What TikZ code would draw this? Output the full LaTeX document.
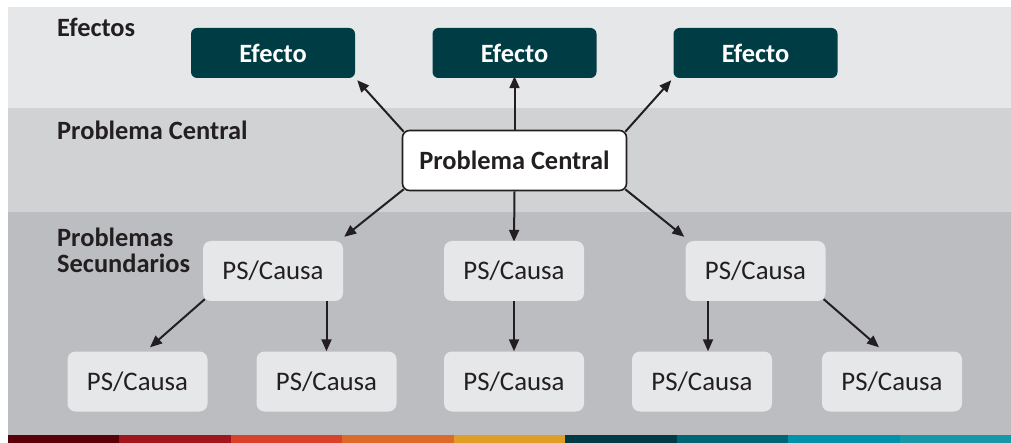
\documentclass[tikz,border=0pt]{standalone}
\usepackage{fontspec}
\setmainfont{Carlito}
\usetikzlibrary{arrows.meta}
\definecolor{ink}{HTML}{231F20}
\definecolor{bandA}{HTML}{E6E7E9}
\definecolor{bandB}{HTML}{D1D2D4}
\definecolor{bandC}{HTML}{BCBDC0}
\definecolor{efecto}{HTML}{003C44}
\definecolor{psfill}{HTML}{E6E7E8}
\definecolor{sA}{HTML}{5A0009}
\definecolor{sB}{HTML}{A1161C}
\definecolor{sC}{HTML}{D9412A}
\definecolor{sD}{HTML}{DC6A2A}
\definecolor{sE}{HTML}{E09E28}
\definecolor{sF}{HTML}{003C46}
\definecolor{sG}{HTML}{006574}
\definecolor{sH}{HTML}{0092A8}
\definecolor{sI}{HTML}{1897A8}
\pgfdeclarelayer{bands}
\pgfdeclarelayer{edges}
\pgfsetlayers{bands,edges,main}
\tikzset{
  txt/.style={font=\fontsize{26.8}{27}\selectfont, text=ink},
  boldtxt/.style={font=\fontsize{26.4}{27}\selectfont\bfseries},
  rowlabel/.style={txt, boldtxt, anchor=base west, inner sep=0pt, align=left},
  efbox/.style={txt, boldtxt, text=white, fill=efecto,
    rounded corners=6pt, minimum width=164pt, minimum height=50pt, inner sep=0pt},
  pcbox/.style={txt, boldtxt, fill=white, draw=ink, line width=1.6pt,
    rounded corners=7pt, minimum width=224pt, minimum height=60pt, inner sep=0pt},
  psbox/.style={txt, fill=psfill, rounded corners=8pt, minimum width=140pt, minimum height=60pt, inner sep=0pt},
  arr/.style={draw=ink, line width=2pt, -{Triangle[length=12pt,width=10pt]}},
}
\begin{document}
\begin{tikzpicture}[x=1pt,y=-1pt]
\useasboundingbox (0,0) rectangle (1011,443);

% background bands and colour stripe
\begin{pgfonlayer}{bands}
  \fill[bandA] (8,7) rectangle (1011,108);
  \fill[bandB] (8,108) rectangle (1011,212);
  \fill[bandC] (8,212) rectangle (1011,435);
  \foreach \c [count=\i from 0] in {sA,sB,sC,sD,sE,sF,sG,sH,sI}
    \fill[\c] ({8+\i*111.45},435) rectangle ({8+(\i+1)*111.45},443);
\end{pgfonlayer}

% row labels
\node[rowlabel] (lef) at (57,37) {Efectos};
\node[rowlabel] (lpc) at (57,140) {Problema Central};
\node[rowlabel] (lps1) at (57,247) {Problemas};
\node[rowlabel] (lps2) at (57,273) {Secundarios};

% effects
\node[efbox] (e1) at (273,53) {Efecto};
\node[efbox] (e2) at (514.5,53) {Efecto};
\node[efbox] (e3) at (755.5,53) {Efecto};

% central problem
\node[pcbox] (pc) at (514.5,160.5) {Problema Central};

% secondary problems / causes
\node[psbox] (p1) at (273,271) {PS/Causa};
\node[psbox] (p2) at (514,271) {PS/Causa};
\node[psbox] (p3) at (755.5,271) {PS/Causa};
\node[psbox] (q1) at (137.5,381.5) {PS/Causa};
\node[psbox] (q2) at (326.5,381.5) {PS/Causa};
\node[psbox] (q3) at (514,381.5) {PS/Causa};
\node[psbox] (q4) at (702,381.5) {PS/Causa};
\node[psbox] (q5) at (892,381.5) {PS/Causa};

% connectors
\begin{pgfonlayer}{edges}
  \draw[arr] ([shift={(2,2)}]pc.north west) -- ([shift={(2,2)}]e1.south east);
  \draw[arr] (pc.north) -- ([yshift=2]e2.south);
  \draw[arr] ([shift={(-2,2)}]pc.north east) -- ([shift={(-2,2)}]e3.south west);
  \draw[arr] ([shift={(2,-2)}]pc.south west) -- ([shift={(1,-4)}]p1.north east);
  \draw[arr] (pc.south) -- ([yshift=-1]p2.north);
  \draw[arr] ([shift={(-2,-2)}]pc.south east) -- ([shift={(-1,-4)}]p3.north west);
  \draw[arr] ([shift={(2,-2)}]p1.south west) -- ([shift={(12.5,-4)}]q1.north);
  \draw[arr] (p1.south -| q2.north) -- (q2.north);
  \draw[arr] (p2.south) -- (q3.north);
  \draw[arr] ([xshift=6]p3.south -| q4.north) -- ([xshift=6]q4.north);
  \draw[arr] ([shift={(-2,-2)}]p3.south east) -- ([shift={(-13,-4)}]q5.north);
\end{pgfonlayer}
\end{tikzpicture}
\end{document}
